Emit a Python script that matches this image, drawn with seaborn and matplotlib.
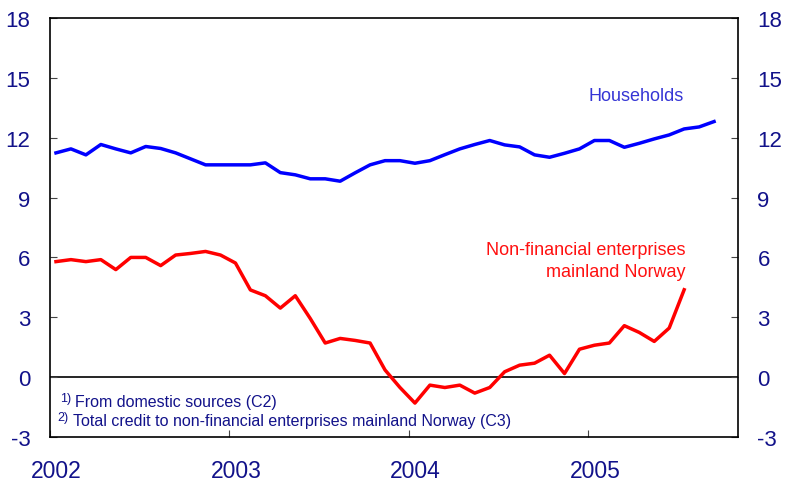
import matplotlib
matplotlib.use("Agg")
import matplotlib.pyplot as plt
import seaborn as sns
import numpy as np
import pandas as pd

# Monthly data, Jan 2002 onwards (12-month growth, per cent)
households = [11.24, 11.44, 11.14, 11.66, 11.44, 11.24, 11.56, 11.46, 11.24, 10.94,
              10.64, 10.64, 10.64, 10.64, 10.74, 10.25, 10.14, 9.94, 9.94, 9.82,
              10.24, 10.64, 10.85, 10.85, 10.72, 10.85, 11.15, 11.44, 11.66, 11.86,
              11.64, 11.54, 11.14, 11.02, 11.22, 11.44, 11.86, 11.86, 11.52, 11.72,
              11.94, 12.14, 12.44, 12.54, 12.81]
enterprises = [5.79, 5.89, 5.79, 5.89, 5.39, 6.00, 6.00, 5.59, 6.12, 6.20,
               6.30, 6.12, 5.72, 4.37, 4.08, 3.46, 4.08, 2.94, 1.71, 1.94,
               1.84, 1.71, 0.36, -0.52, -1.30, -0.40, -0.52, -0.40, -0.80, -0.52,
               0.27, 0.60, 0.70, 1.10, 0.18, 1.40, 1.60, 1.71, 2.58, 2.24,
               1.79, 2.46, 4.38]
year_labels = ["2002", "2003", "2004", "2005"]
y_ticks = [-3, 0, 3, 6, 9, 12, 15, 18]

df = pd.concat([
    pd.DataFrame({"month": np.arange(len(households)), "value": households, "series": "Households"}),
    pd.DataFrame({"month": np.arange(len(enterprises)), "value": enterprises, "series": "Enterprises"}),
])

plt.rcParams['font.family'] = ['Liberation Sans', 'DejaVu Sans']
navy = "#12128a"

fig = plt.figure(figsize=(7.87, 4.89), dpi=100)
ax = fig.add_axes([50/787, 1-438/489, (738-50)/787, (438-19)/489])

sns.lineplot(data=df, x="month", y="value", hue="series",
             palette={"Households": "#0000ff", "Enterprises": "#ff0000"},
             linewidth=2.5, legend=False, ax=ax)
ax.axhline(0, color="black", lw=1.2, zorder=1)

ax.set_xlim(-0.4, 45.6)
ax.set_ylim(-3, 18)
ax.set_xlabel("")
ax.set_ylabel("")

year_pos = [12 * k - 0.4 for k in range(len(year_labels))]
ax.set_xticks(year_pos)
ax.set_xticklabels([])
ax.set_xticks([p + 0.45 for p in year_pos], minor=True)
ax.set_xticklabels(year_labels, minor=True)
ax.tick_params(axis="x", which="major", direction="in", length=5, color="#444444")
ax.tick_params(axis="x", which="minor", length=0, pad=16, labelsize=16.5, labelcolor=navy)

ax.set_yticks(y_ticks)
ax.set_yticklabels([str(t) for t in y_ticks])
ax.tick_params(axis="y", which="major", direction="in", length=5, color="#444444",
               left=True, right=True, labelleft=True, labelright=True,
               labelsize=16, labelcolor=navy, pad=14)

for sp in ax.spines.values():
    sp.set_color("black")
    sp.set_linewidth(1.2)

ax.text(38.8, 14.1, "Households", color="#3535d5", fontsize=13, ha="center", va="center")
ax.text(42.06, 6.39, "Non-financial enterprises", color="#ff1010", fontsize=13, ha="right", va="center")
ax.text(42.06, 5.27, "mainland Norway", color="#ff1010", fontsize=13, ha="right", va="center")

ax.text(0.27, -1.05, "1)", color=navy, fontsize=9, ha="left", va="center")
ax.text(1.27, -1.2, "From domestic sources (C2)", color=navy, fontsize=11.5, ha="left", va="center")
ax.text(0.07, -2.0, "2)", color=navy, fontsize=9, ha="left", va="center")
ax.text(1.12, -2.15, "Total credit to non-financial enterprises mainland Norway (C3)", color=navy,
        fontsize=11.5, ha="left", va="center")

fig.savefig("out.png", dpi=100)
